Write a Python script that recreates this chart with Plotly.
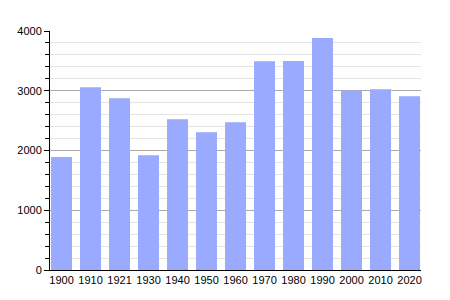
import plotly.graph_objects as go

years = ["1900", "1910", "1921", "1930", "1940", "1950", "1960",
         "1970", "1980", "1990", "2000", "2010", "2020"]
population = [1893, 3058, 2875, 1922, 2524, 2306, 2474,
              3493, 3499, 3883, 3003, 3025, 2908]
y_ticks = [0, 1000, 2000, 3000, 4000]

fig = go.Figure(go.Bar(x=years, y=population, marker_color="#99aaff",
                       marker_line_width=0))

fig.update_layout(
    width=450, height=300,
    margin=dict(l=50, r=29, t=31, b=30),
    paper_bgcolor="white", plot_bgcolor="white",
    bargap=0.276,
    showlegend=False,
    font=dict(family="Liberation Sans, Arial, sans-serif", size=11, color="black"),
)
fig.update_xaxes(type="category", range=[-0.397, 12.396], showline=True,
                 linecolor="black", linewidth=1,
                 ticks="", showgrid=False, tickfont=dict(size=11))
fig.update_yaxes(range=[0, 4000], tickvals=y_ticks, showline=True,
                 linecolor="black", linewidth=1, ticks="outside", ticklen=5,
                 tickcolor="black", showgrid=True, gridcolor="#aaaaaa",
                 gridwidth=1, zeroline=False,
                 minor=dict(dtick=200, showgrid=True, gridcolor="#e4e4e4",
                            ticks="outside", ticklen=4, tickcolor="black"),
                 tickfont=dict(size=11))

fig.write_html("out.html")
